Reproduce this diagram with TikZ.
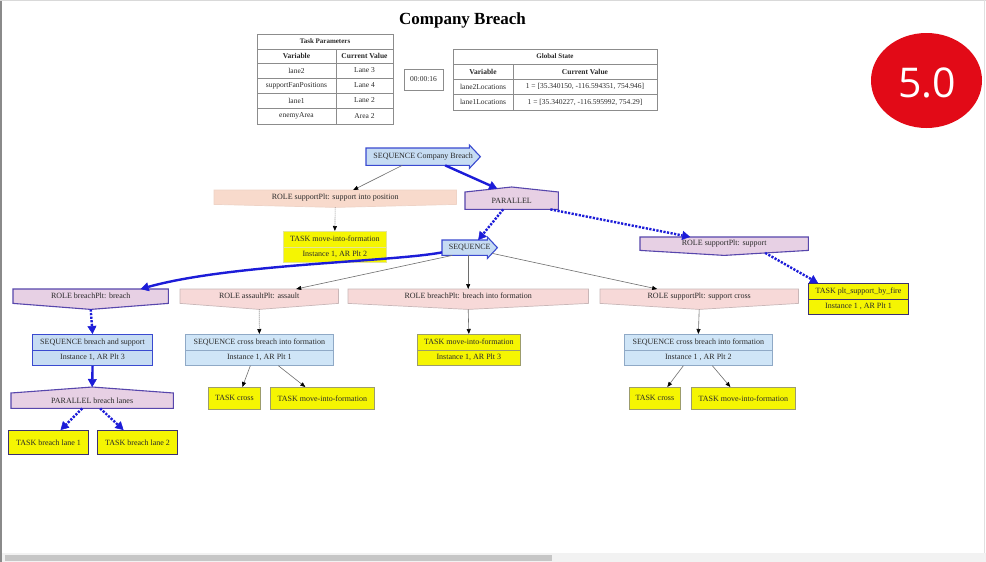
\documentclass[tikz,border=0pt]{standalone}
\usepackage{fontspec}
\setmainfont{Liberation Serif}
\newfontfamily\badgefont{Open Sans}
\usetikzlibrary{arrows.meta,backgrounds}

\definecolor{edgeblue}{HTML}{1C1CD8}
\definecolor{edgegray}{HTML}{6E6E6E}
\definecolor{seqfill}{HTML}{C6DCF3}
\definecolor{seqline}{HTML}{3A4AD0}
\definecolor{seqfillpale}{HTML}{CFE5F7}
\definecolor{seqlinepale}{HTML}{8FA9C6}
\definecolor{rolefill}{HTML}{E7D0E4}
\definecolor{roleline}{HTML}{5746AC}
\definecolor{rolefillpale}{HTML}{F7D9D8}
\definecolor{rolelinepale}{HTML}{C9B7B8}
\definecolor{peachfill}{HTML}{F8DACC}
\definecolor{peachline}{HTML}{EFD3C6}
\definecolor{taskfill}{HTML}{F5F502}
\definecolor{tasklinepale}{HTML}{9C9C6C}
\definecolor{taskline}{HTML}{3B3070}
\definecolor{tasklinefaint}{HTML}{E4E49A}
\definecolor{inkgray}{HTML}{2A2A2A}
\definecolor{gridgray}{HTML}{8C8C8C}
\definecolor{badgered}{HTML}{E20A17}
\definecolor{framegray}{HTML}{8A8A8A}
\definecolor{thumbgray}{HTML}{C6C6C6}
\definecolor{trackgray}{HTML}{F2F2F2}

\tikzset{
  lbl/.style={font=\fontsize{8}{9}\selectfont, text=inkgray, inner sep=0pt, anchor=north west},
  dims/.style 2 args={minimum width=#1, minimum height=#2},
  twoline/.style={align=center, font=\fontsize{8}{15}\selectfont,
    path picture={\draw[line width=0.7pt,#1] (path picture bounding box.west) -- (path picture bounding box.east);}},
  seqbox/.style={fill=seqfill, draw=seqline, line width=1.1pt},
  seqboxpale/.style={fill=seqfillpale, draw=seqlinepale, line width=0.7pt},
  taskbox/.style={fill=taskfill, draw=tasklinepale, line width=0.7pt},
  taskboxact/.style={fill=taskfill, draw=taskline, line width=1.1pt},
  taskboxfaint/.style={fill=taskfill, draw=tasklinefaint, line width=0.7pt},
  shapeact/.style={fill=rolefill, draw=roleline, line width=1.1pt},
  shapepale/.style={fill=rolefillpale, draw=rolelinepale, line width=0.7pt},
  shapepeach/.style={fill=peachfill, draw=peachline, line width=0.7pt},
  seqshape/.style={fill=seqfill, draw=seqline, line width=1.1pt},
  live/.style={draw=edgeblue, line width=2.4pt,
    -{Triangle[length=8pt,width=9pt,line width=0.5pt]}},
  livedot/.style={live, dash pattern=on 2.2pt off 1.4pt},
  idle/.style={draw=edgegray, line width=0.6pt,
    -{Triangle[length=5pt,width=4pt,color=black]}},
  idledot/.style={idle, dash pattern=on 1pt off 1pt},
  cell/.style={font=\fontsize{7.5}{8}\selectfont, text=inkgray, inner sep=0pt, anchor=center},
  cellhead/.style={cell, font=\fontsize{7.5}{8}\selectfont\bfseries},
  celltitle/.style={cell, font=\fontsize{7}{8}\selectfont\bfseries},
  grid/.style={draw=gridgray, line width=0.6pt},
}

\begin{document}
\begin{tikzpicture}[x=1pt,y=-1pt]
\useasboundingbox (0,0) rectangle (986,562);
\begin{scope}[on background layer]
  \fill[white] (0,0) rectangle (986,562);
\end{scope}

% window frame and scroll bar
\draw[framegray, line width=2pt] (1,0) -- (1,562);
\draw[black!15, line width=1pt] (0,0.5) -- (986,0.5);
\draw[black!12, line width=1.5pt] (984.5,0) -- (984.5,562);
\fill[trackgray] (2,553) rectangle (986,562);
\fill[thumbgray] (5,555) rectangle (552,561);

% title
\node[font=\fontsize{17}{20}\selectfont\bfseries, text=black, inner sep=0pt] (title) at (462.5,20) {Company Breach};

% task parameters table
\draw[grid, line width=1pt] (257,34) rectangle (393,124);
\foreach \yy in {49,63,78,93,108} \draw[grid] (257,\yy) -- (393,\yy);
\draw[grid] (336,49) -- (336,124);
\node[celltitle] (tpTitle) at (325,41.5) {Task Parameters};
\node[cellhead] (tpVar) at (296.5,56) {Variable};
\node[cellhead] (tpVal) at (364.5,56) {Current Value};
\node[cell] (tpA) at (296.5,70.5) {lane2};
\node[cell] (tpAv) at (364.5,70.5) {Lane 3};
\node[cell] (tpB) at (296.5,85.5) {supportFanPositions};
\node[cell] (tpBv) at (364.5,85.5) {Lane 4};
\node[cell] (tpC) at (296.5,100.5) {lane1};
\node[cell] (tpCv) at (364.5,100.5) {Lane 2};
\node[cell] (tpD) at (296.5,116) {enemyArea};
\node[cell] (tpDv) at (364.5,116) {Area 2};

% mission clock
\node[cell, draw=gridgray, line width=0.8pt, minimum width=39pt, minimum height=21pt] (timer) at (423.5,79.5) {00:00:16};

% global state table
\draw[grid, line width=1pt] (453,49) rectangle (657,110);
\foreach \yy in {64,79,94} \draw[grid] (453,\yy) -- (657,\yy);
\draw[grid] (513,64) -- (513,110);
\node[celltitle] (gsTitle) at (555,56.5) {Global State};
\node[cellhead] (gsVar) at (483,71.5) {Variable};
\node[cellhead] (gsVal) at (585,71.5) {Current Value};
\node[cell] (gsA) at (483,86.5) {lane2Locations};
\node[cell] (gsAv) at (585,86.5) {1 = [35.340150, -116.594351, 754.946]};
\node[cell] (gsB) at (483,102) {lane1Locations};
\node[cell] (gsBv) at (585,102) {1 = [35.340227, -116.595992, 754.29]};

% version badge
\fill[badgered] (926.5,80.5) ellipse [x radius=55.5pt, y radius=47.5pt];
\node[font=\badgefont\fontsize{41}{46}\selectfont, text=white, inner sep=0pt] (badge) at (927,83) {5.0};

% ---- behaviour tree nodes ----
% sequences drawn as arrows, roles as inverted houses, parallels as houses
\node[lbl, dims={114pt}{17pt}] (seqCB) at (366,148) {SEQUENCE Company Breach};
\node[lbl, dims={242pt}{14pt}] (roleSIP) at (214,190) {ROLE supportPlt: support into position};
\node[lbl, dims={93pt}{17pt}] (par1) at (465,192) {PARALLEL};
\node[lbl, taskboxfaint, twoline=tasklinefaint, dims={103pt}{31pt}] (taskMIF1) at (283,231) {TASK move-into-formation\\Instance 1, AR Plt 2};
\node[lbl, dims={55pt}{15pt}] (seq2) at (442,240) {SEQUENCE};
\node[lbl, dims={168pt}{13pt}] (roleSup) at (640,237) {ROLE supportPlt: support};
\node[lbl, taskboxact, twoline=taskline, dims={100pt}{31pt}] (taskPSF) at (808,283) {TASK plt\_support\_by\_fire\\Instance 1 , AR Plt 1};

\node[lbl, dims={155pt}{14pt}] (roleBreach) at (13,289) {ROLE breachPlt: breach};
\node[lbl, dims={158pt}{14pt}] (roleAssault) at (180,289) {ROLE assaultPlt: assault};
\node[lbl, dims={240pt}{14pt}] (roleBIF) at (348,289) {ROLE breachPlt: breach into formation};
\node[lbl, dims={198pt}{14pt}] (roleSC) at (600,289) {ROLE supportPlt: support cross};

\node[lbl, seqbox, twoline=seqline, dims={120pt}{31pt}] (seqBS) at (32,334) {SEQUENCE breach and support\\Instance 1, AR Plt 3};
\node[lbl, seqboxpale, twoline=seqlinepale, dims={148pt}{31pt}] (seqCBF1) at (185,334) {SEQUENCE cross breach into formation\\Instance 1, AR Plt 1};
\node[lbl, taskbox, twoline=tasklinepale, dims={103pt}{31pt}] (taskMIF2) at (417,334) {TASK move-into-formation\\Instance 1, AR Plt 3};
\node[lbl, seqboxpale, twoline=seqlinepale, dims={148pt}{31pt}] (seqCBF2) at (624,334) {SEQUENCE cross breach into formation\\Instance 1 , AR Plt 2};

\node[lbl, dims={162pt}{15pt}] (parBL) at (11,393) {PARALLEL breach lanes};
\node[lbl, taskbox, dims={52pt}{22pt}] (taskCross1) at (208,387) {TASK cross};
\node[lbl, taskbox, dims={104pt}{22pt}] (taskMIF3) at (270,387) {TASK move-into-formation};
\node[lbl, taskbox, dims={51pt}{22pt}] (taskCross2) at (629,387) {TASK cross};
\node[lbl, taskbox, dims={104pt}{22pt}] (taskMIF4) at (691,387) {TASK move-into-formation};
\node[lbl, taskboxact, dims={80pt}{24pt}] (taskBL1) at (8,430) {TASK breach lane 1};
\node[lbl, taskboxact, dims={80pt}{24pt}] (taskBL2) at (97,430) {TASK breach lane 2};

% outlines of the shaped nodes, behind their labels
\begin{scope}[on background layer]
  \filldraw[seqshape] (seqCB.north west) -- ([xshift=-11pt]seqCB.north east) -- ([xshift=-11pt,yshift=3pt]seqCB.north east) -- (seqCB.east) -- ([xshift=-11pt,yshift=-3pt]seqCB.south east) -- ([xshift=-11pt]seqCB.south east) -- (seqCB.south west) -- cycle;
  \filldraw[seqshape] (seq2.north west) -- ([xshift=-10pt]seq2.north east) -- ([xshift=-10pt,yshift=3pt]seq2.north east) -- (seq2.east) -- ([xshift=-10pt,yshift=-3pt]seq2.south east) -- ([xshift=-10pt]seq2.south east) -- (seq2.south west) -- cycle;
  \filldraw[shapeact] (par1.south west) -- (par1.north west) -- ([yshift=5pt]par1.north) -- (par1.north east) -- (par1.south east) -- cycle;
  \filldraw[shapeact] (parBL.south west) -- (parBL.north west) -- ([yshift=6pt]parBL.north) -- (parBL.north east) -- (parBL.south east) -- cycle;
  \filldraw[shapepeach] (roleSIP.north west) -- (roleSIP.north east) -- (roleSIP.south east) -- ([yshift=-3pt]roleSIP.south) -- (roleSIP.south west) -- cycle;
  \filldraw[shapeact] (roleSup.north west) -- (roleSup.north east) -- (roleSup.south east) -- ([yshift=-5pt]roleSup.south) -- (roleSup.south west) -- cycle;
  \filldraw[shapeact] (roleBreach.north west) -- (roleBreach.north east) -- (roleBreach.south east) -- ([yshift=-6pt]roleBreach.south) -- (roleBreach.south west) -- cycle;
  \filldraw[shapepale] (roleAssault.north west) -- (roleAssault.north east) -- (roleAssault.south east) -- ([yshift=-6pt]roleAssault.south) -- (roleAssault.south west) -- cycle;
  \filldraw[shapepale] (roleBIF.north west) -- (roleBIF.north east) -- (roleBIF.south east) -- ([yshift=-6pt]roleBIF.south) -- (roleBIF.south west) -- cycle;
  \filldraw[shapepale] (roleSC.north west) -- (roleSC.north east) -- (roleSC.south east) -- ([yshift=-6pt]roleSC.south) -- (roleSC.south west) -- cycle;
\end{scope}

% ---- connectors ----
\draw[idle] ([xshift=-21pt]seqCB.south) -- ([xshift=18pt]roleSIP.north);
\draw[live] ([xshift=22pt]seqCB.south) -- ([xshift=-14.5pt,yshift=3.4pt]par1.north);
\draw[idledot] ([yshift=-3pt]roleSIP.south) -- (taskMIF1.north);
\draw[livedot] ([xshift=-8.5pt]par1.south) -- ([xshift=8.5pt]seq2.north);
\draw[livedot] ([xshift=-8pt]par1.south east) -- ([xshift=-34pt]roleSup.north);
\draw[livedot] ([xshift=41pt,yshift=-2.5pt]roleSup.south) -- ([xshift=10pt]taskPSF.north west);

\draw[live] ([yshift=3pt]seq2.south west) .. controls (390,262) and (230,264) .. ([xshift=50pt]roleBreach.north);
\draw[idle] ([xshift=-17.5pt]seq2.south) -- ([xshift=37pt]roleAssault.north);
\draw[idle] ([xshift=-1.5pt]seq2.south) -- (roleBIF.north);
\draw[idle] ([xshift=-5pt,yshift=2pt]seq2.south east) -- ([xshift=-42pt]roleSC.north);

\draw[livedot] ([yshift=-6pt]roleBreach.south) -- (seqBS.north);
\draw[idledot] ([yshift=-6pt]roleAssault.south) -- (seqCBF1.north);
\draw[idle] ([yshift=-6pt]roleBIF.south) -- (taskMIF2.north);
\draw[idle] ([yshift=-6pt]roleSC.south) -- (seqCBF2.north);

\draw[live] (seqBS.south) -- ([yshift=6pt]parBL.north);
\draw[idle] ([xshift=-9pt]seqCBF1.south) -- ([xshift=8pt]taskCross1.north);
\draw[idle] ([xshift=19pt]seqCBF1.south) -- ([xshift=-17pt]taskMIF3.north);
\draw[idle] ([xshift=-15pt]seqCBF2.south) -- ([xshift=12.5pt]taskCross2.north);
\draw[idle] ([xshift=14pt]seqCBF2.south) -- ([xshift=-13pt]taskMIF4.north);
\draw[livedot] ([xshift=-10pt]parBL.south) -- ([xshift=12pt]taskBL1.north);
\draw[livedot] ([xshift=8pt]parBL.south) -- ([xshift=-14pt]taskBL2.north);
\end{tikzpicture}
\end{document}
